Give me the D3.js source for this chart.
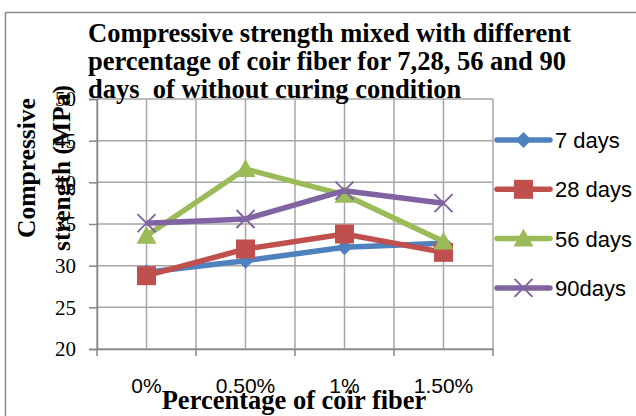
<!DOCTYPE html>
<html>
<head>
<meta charset="utf-8">
<script src="https://cdn.jsdelivr.net/npm/d3@7"></script>
<style>
  body { margin: 0; background: #fff; }
  svg { display: block; }
</style>
</head>
<body>
<div id="chart"></div>
<script>
const categories = ["0%", "0.50%", "1%", "1.50%"];
const seriesNames = ["7 days", "28 days", "56 days", "90days"];
const days7 = [29.2, 30.6, 32.2, 32.7];
const days28 = [28.8, 32.0, 33.8, 31.6];
const days56 = [33.6, 41.6, 38.5, 32.9];
const days90 = [35.1, 35.6, 39.0, 37.5];
const yTicks = [20, 25, 30, 35, 40, 45, 50];
const titleLines = [
  "Compressive strength mixed with different",
  "percentage of coir fiber for 7,28, 56 and 90",
  "days  of without curing condition"
];

const colors = ["#4F81BD", "#C0504D", "#9BBB59", "#8064A2"];
const symbols = ["diamond", "square", "triangle", "cross"];
const series = [days7, days28, days56, days90].map((v, i) => ({
  name: seriesNames[i], values: v, color: colors[i], symbol: symbols[i]
}));

const W = 636, H = 416;
const margin = { top: 99, left: 97, right: 143, bottom: 67 };
const serif = "Liberation Serif, Times New Roman, serif";
const sans = "Liberation Sans, Arial, sans-serif";

const svg = d3.select("#chart").append("svg")
  .attr("width", W).attr("height", H);

// chart border
svg.append("rect")
  .attr("x", 5.5).attr("y", 12.5)
  .attr("width", W + 10).attr("height", H)
  .attr("fill", "none").attr("stroke", "#8c8c8c").attr("stroke-width", 1.5);

let x = d3.scaleBand()
  .domain(categories)
  .range([margin.left, W - margin.right]);
let y = d3.scaleLinear()
  .domain([20, 50])
  .range([H - margin.bottom, margin.top]);
const cx = d => x(d) + x.bandwidth() / 2;

// gridlines
const grid = svg.append("g").attr("stroke", "#a6a6a6").attr("stroke-width", 1.5);
grid.selectAll("line.h")
  .data(yTicks)
  .enter().append("line")
  .attr("x1", margin.left).attr("x2", W - margin.right)
  .attr("y1", d => y(d)).attr("y2", d => y(d));
let vx = [];
categories.forEach(c => { vx.push(x(c)); vx.push(cx(c)); });
vx.push(W - margin.right);
grid.selectAll("line.v")
  .data(vx)
  .enter().append("line")
  .attr("x1", d => d).attr("x2", d => d)
  .attr("y1", margin.top).attr("y2", H - margin.bottom);

// axes
const yAxis = svg.append("g")
  .attr("transform", "translate(" + margin.left + ",0)")
  .call(d3.axisLeft(y).tickValues(yTicks).tickSize(8).tickPadding(13));
yAxis.select(".domain").attr("stroke", "#868686").attr("stroke-width", 1.5);
yAxis.selectAll(".tick line").attr("stroke", "#868686").attr("stroke-width", 1.5);
yAxis.selectAll("text")
  .attr("font-family", serif)
  .attr("font-size", 21).attr("fill", "#000");

const xAxis = svg.append("g")
  .attr("transform", "translate(0," + (H - margin.bottom) + ")")
  .call(d3.axisBottom(x).tickSize(0).tickPadding(29));
xAxis.select(".domain").attr("stroke", "#868686").attr("stroke-width", 1.5);
xAxis.selectAll("text")
  .attr("font-family", sans)
  .attr("font-size", 21).attr("fill", "#000");
xAxis.selectAll("line.bt")
  .data(categories.map(c => x(c)).concat([W - margin.right]))
  .enter().append("line")
  .attr("x1", d => d).attr("x2", d => d)
  .attr("y1", 0).attr("y2", 7)
  .attr("stroke", "#868686").attr("stroke-width", 1.5);

// lines and markers
const line = d3.line()
  .x((d, i) => cx(categories[i]))
  .y(d => y(d));

function drawMarker(g, s, px, py) {
  const t = "translate(" + px + "," + py + ")";
  if (s.symbol === "diamond") {
    g.append("path").attr("d", "M0,-8L8,0L0,8L-8,0Z")
      .attr("transform", t).attr("fill", s.color);
  } else if (s.symbol === "square") {
    g.append("path").attr("d", "M-9.5,-9.5H9.5V9.5H-9.5Z")
      .attr("transform", t).attr("fill", s.color);
  } else if (s.symbol === "triangle") {
    g.append("path").attr("d", "M0,-10L10,8L-10,8Z")
      .attr("transform", t).attr("fill", s.color);
  } else {
    g.append("path").attr("d", "M-9,-9L9,9M-9,9L9,-9")
      .attr("transform", t)
      .attr("stroke", s.color).attr("stroke-width", 2);
  }
}

series.forEach(s => {
  const g = svg.append("g");
  g.append("path")
    .datum(s.values)
    .attr("d", line)
    .attr("fill", "none")
    .attr("stroke", s.color)
    .attr("stroke-width", 5.5)
    .attr("stroke-linejoin", "round");
  s.values.forEach((v, i) => drawMarker(g, s, cx(categories[i]), y(v)));
});

// legend
const legend = svg.append("g");
series.forEach((s, i) => {
  const ly = 140 + i * 49.3;
  const g = legend.append("g");
  g.append("line")
    .attr("x1", 497).attr("x2", 550).attr("y1", ly).attr("y2", ly)
    .attr("stroke", s.color).attr("stroke-width", 5.5).attr("stroke-linecap", "round");
  drawMarker(g, s, 523.5, ly);
  g.append("text")
    .attr("x", 555).attr("y", ly + 8)
    .attr("font-family", sans)
    .attr("font-size", 22)
    .text(s.name);
});

// title
const title = svg.append("text")
  .attr("font-family", serif)
  .attr("font-weight", "bold")
  .attr("font-size", 26.5);
titleLines.forEach((t, i) => {
  title.append("tspan").attr("x", 88).attr("y", 42 + i * 28)
    .style("white-space", "pre").text(t);
});

// axis titles
svg.append("text")
  .attr("transform", "translate(294,409)")
  .attr("text-anchor", "middle")
  .attr("font-family", serif)
  .attr("font-weight", "bold").attr("font-size", 26.5)
  .text("Percentage of coir fiber");

const yt = svg.append("text")
  .attr("transform", "translate(0,168) rotate(-90)")
  .attr("text-anchor", "middle")
  .attr("font-family", serif)
  .attr("font-weight", "bold").attr("font-size", 25.5);
yt.append("tspan").attr("x", 0).attr("y", 35).text("Compressive");
yt.append("tspan").attr("x", 0).attr("y", 70).text("strength (MPa)");
</script>
</body>
</html>
